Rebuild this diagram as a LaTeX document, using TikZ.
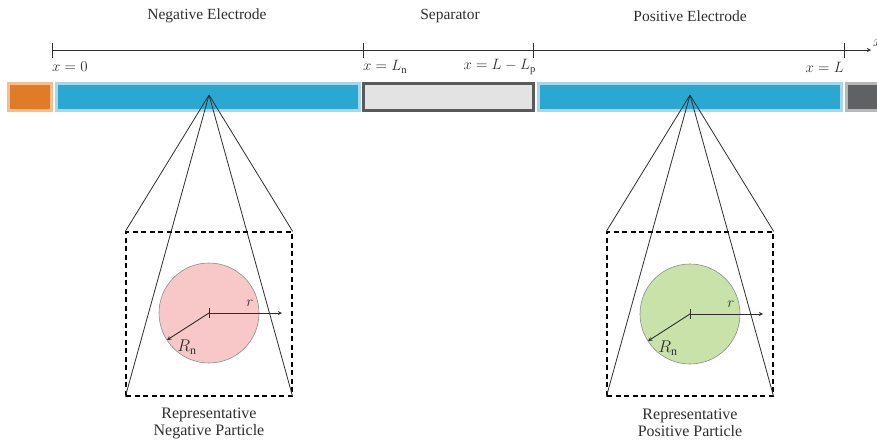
\documentclass[tikz,border=0pt]{standalone}
\usepackage{fix-cm}
\usepackage{fontspec}
\setmainfont{Liberation Serif}
\usetikzlibrary{arrows, positioning, calc}
\definecolor{ccorange}{HTML}{E07B28}
\definecolor{ccorangelt}{HTML}{F5BE8E}
\definecolor{elblue}{HTML}{2AA8D2}
\definecolor{elbluelt}{HTML}{A8D6EA}
\definecolor{sepfill}{HTML}{E3E3E3}
\definecolor{sepedge}{HTML}{5A5A5A}
\definecolor{ccgray}{HTML}{5E6264}
\definecolor{ccgraylt}{HTML}{B8B8B8}
\definecolor{negpart}{HTML}{F8C8C8}
\definecolor{pospart}{HTML}{C8E2AA}
\definecolor{ink}{HTML}{2E2E2E}
\tikzset{
  cell/.style={draw, line width=3pt, minimum height=27pt, inner sep=0pt},
  part/.style={circle, draw=gray!90, line width=0.6pt, minimum size=100pt, inner sep=0pt},
  win/.style={draw, dash pattern=on 5pt off 3.5pt, line width=1.3pt, minimum width=166pt, minimum height=164pt, inner sep=0pt},
  cone/.style={draw=ink, line width=0.8pt},
  vec/.style={->, >=stealth, draw=ink, line width=0.9pt},
  xlab/.style={text=ink, font=\fontsize{15}{17}\selectfont, inner sep=1pt},
  ttl/.style={text=ink, font=\fontsize{15.5}{17}\selectfont, inner sep=1pt},
  partcap/.style={text=ink, font=\fontsize{16}{17}\selectfont, align=center, inner sep=1pt}
}

\begin{document}
\begin{tikzpicture}[x=1pt, y=-1pt]
		\useasboundingbox (0,0) rectangle (877,441);
		% titles
		\node[ttl] (tneg) at (207,16) {Negative Electrode};
		\node[ttl] (tsep) at (450,16) {Separator};
		\node[ttl] (tpos) at (690,16) {Positive Electrode};
		% axis
		\coordinate (ax0) at (52,50);
		\coordinate (axend) at (871,50);
		\draw[vec] (ax0) -- (axend);
		\foreach \t in {52,363,533,844}
			\draw[ink, line width=0.8pt] (\t,43) -- (\t,58);
		\node[xlab, anchor=north west, inner sep=0pt] (xend) at (873,40) {$x$};
		\node[xlab, anchor=west] (x0) at (51,67) {$x = 0$};
		\node[xlab, anchor=west] (xln) at (362,67) {$x = L_\mathrm{n}$};
		\node[xlab, anchor=east] (xlp) at (537,67) {$x = L - L_\mathrm{p}$};
		\node[xlab, anchor=east] (xl) at (845,67) {$x = L$};
		% cell
		\node[cell, draw=ccorangelt, fill=ccorange, minimum width=43pt] (ccneg) at (30,97) {};
		\node[cell, draw=elbluelt, fill=elblue, minimum width=303pt] (negel) at (208,97) {};
		\node[cell, draw=sepedge, fill=sepfill, minimum width=170pt] (sep) at (448.5,97) {};
		\node[cell, draw=elbluelt, fill=elblue, minimum width=303pt] (posel) at (690,97) {};
		\node[cell, draw=ccgraylt, fill=ccgray, minimum width=37pt] (ccpos) at (865,97) {};
		% negative particle
		\coordinate (negapex) at (209,95);
		\node[win] (negwin) at (209,314) {};
		\draw[cone] (negapex) -- (negwin.north west);
		\draw[cone] (negapex) -- (negwin.north east);
		\draw[cone] (negapex) -- (negwin.south west);
		\draw[cone] (negapex) -- (negwin.south east);
		\node[part, fill=negpart] (negp) at (209,313) {};
		\draw[ink, line width=0.8pt] ($(negp.center)+(0,-5)$) -- ($(negp.center)+(0,5)$);
		\coordinate (negr) at (282,313);
		\coordinate (negR) at (167,340);
		\draw[vec] (negp.center) -- (negr);
		\draw[vec] (negp.center) -- (negR);
		\node[xlab] (negrl) at (250,303) {$r$};
		\node[xlab, font=\fontsize{17}{19}\selectfont] (negRl) at (187,347) {$R_\mathrm{n}$};
		\node[partcap] (negcap) at (209,423) {Representative\\Negative Particle};
		% positive particle
		\coordinate (posapex) at (690,95);
		\node[win] (poswin) at (690,314) {};
		\draw[cone] (posapex) -- (poswin.north west);
		\draw[cone] (posapex) -- (poswin.north east);
		\draw[cone] (posapex) -- (poswin.south west);
		\draw[cone] (posapex) -- (poswin.south east);
		\node[part, fill=pospart] (posp) at (690,314) {};
		\draw[ink, line width=0.8pt] ($(posp.center)+(0,-5)$) -- ($(posp.center)+(0,5)$);
		\coordinate (posr) at (763,314);
		\coordinate (posR) at (648,341);
		\draw[vec] (posp.center) -- (posr);
		\draw[vec] (posp.center) -- (posR);
		\node[xlab] (posrl) at (731,304) {$r$};
		\node[xlab, font=\fontsize{17}{19}\selectfont] (posRl) at (668,348) {$R_\mathrm{n}$};
		\node[partcap] (poscap) at (690,423) {Representative\\Positive Particle};
	\end{tikzpicture}
\end{document}
